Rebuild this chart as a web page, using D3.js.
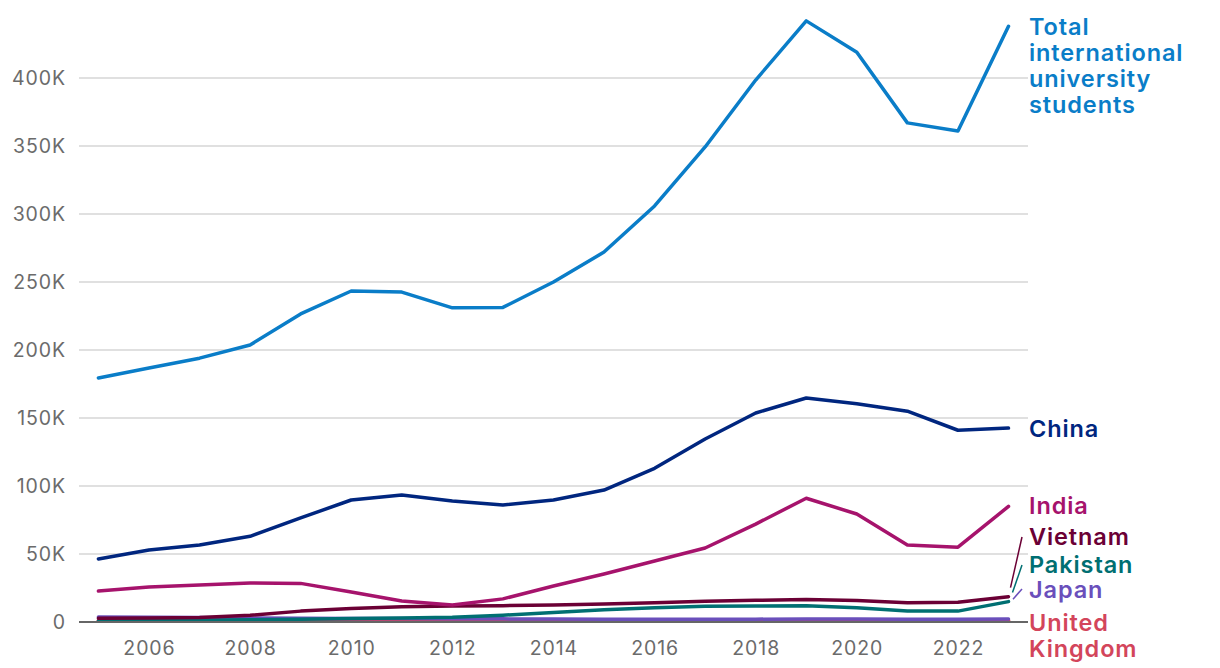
<!DOCTYPE html>
<html>
<head>
<meta charset="utf-8">
<script src="https://cdn.jsdelivr.net/npm/d3@7"></script>
<style>
  html, body { margin: 0; padding: 0; background: #fff; }
  svg { display: block; }
  text { font-family: "Inter", "Noto Sans", sans-serif; }
</style>
</head>
<body>
<svg id="chart" width="1220" height="668"></svg>
<script>
const years = d3.range(2005, 2024);
const xTicks = [2006, 2008, 2010, 2012, 2014, 2016, 2018, 2020, 2022];
const yTicks = [0, 50000, 100000, 150000, 200000, 250000, 300000, 350000, 400000];

const total    = [179400, 186800, 194000, 203700, 226500, 243400, 242600, 231000, 231300, 250000, 272000, 305900, 349300, 398500, 442000, 419000, 367000, 361000, 438000];
const china    = [46300, 53000, 56600, 63000, 76500, 89700, 93400, 89000, 86000, 89700, 97000, 113000, 134600, 153700, 164700, 160500, 155000, 141000, 142600];
const india    = [22800, 25700, 27200, 28700, 28400, 22000, 15400, 12500, 17000, 26500, 35300, 44900, 54400, 72000, 91000, 79400, 56600, 55000, 85000];
const vietnam  = [2800, 3000, 3300, 5000, 8000, 10000, 11300, 11700, 12000, 12500, 13200, 14200, 15200, 16000, 16500, 15800, 14200, 14500, 18600];
const pakistan = [800, 1000, 1200, 1600, 2100, 2600, 3000, 3500, 5000, 7000, 9000, 10500, 11500, 11800, 12000, 10500, 8000, 8000, 15000];
const japan    = [3600, 3500, 3300, 3000, 2800, 2600, 2500, 2400, 2300, 2200, 2100, 2100, 2100, 2100, 2200, 2200, 2100, 2100, 2200];
const uk       = [1200, 1200, 1200, 1200, 1200, 1200, 1200, 1200, 1200, 1200, 1200, 1200, 1200, 1200, 1200, 1200, 1200, 1200, 1200];

const seriesNames = ["United Kingdom", "Japan", "Pakistan", "Vietnam", "India", "China", "Total international university students"];
const seriesValues = [uk, japan, pakistan, vietnam, india, china, total];
const seriesColors = ["#d3455b", "#6a4fbb", "#006f72", "#6b0035", "#a6136c", "#00267f", "#0a7dc8"];

const svg = d3.select("#chart");
const x = d3.scaleLinear().domain([2005, 2023]).range([98.4, 1008.5]);
const y = d3.scaleLinear().domain([0, 400000]).range([622, 78]);
const gridX0 = 79, gridX1 = 1028;

// gridlines
svg.append("g").selectAll("line")
  .data(yTicks.filter(d => d > 0))
  .join("line")
  .attr("x1", gridX0).attr("x2", gridX1)
  .attr("y1", d => y(d)).attr("y2", d => y(d))
  .attr("stroke", "#d6d6d6").attr("stroke-width", 1.5);

// y axis labels
const yAxis = d3.axisLeft(y).tickValues(yTicks).tickSize(0).tickPadding(0)
  .tickFormat(d => d === 0 ? "0" : (d / 1000) + "K");
const gy = svg.append("g").attr("transform", `translate(66,0)`).call(yAxis);
gy.select(".domain").remove();
gy.selectAll("text").attr("fill", "#6b6b6b").attr("font-size", 19.5)
  .attr("letter-spacing", "0.9px").attr("dy", "0.34em");

// x axis labels
const xAxis = d3.axisBottom(x).tickValues(xTicks).tickSize(0).tickPadding(0).tickFormat(d3.format("d"));
const gx = svg.append("g").attr("transform", `translate(0,636)`).call(xAxis);
gx.select(".domain").remove();
gx.selectAll("text").attr("fill", "#6b6b6b").attr("font-size", 19.5)
  .attr("letter-spacing", "0.9px").attr("dy", "0.95em");

// lines
const line = d3.line().x((d, i) => x(years[i])).y(d => y(d)).curve(d3.curveLinear);
svg.append("g").selectAll("path")
  .data(seriesValues)
  .join("path")
  .attr("d", d => line(d))
  .attr("fill", "none")
  .attr("stroke", (d, i) => seriesColors[i])
  .attr("stroke-width", 3.5)
  .attr("stroke-linejoin", "round")
  .attr("stroke-linecap", "round");

// zero line
svg.append("line")
  .attr("x1", gridX0).attr("x2", gridX1)
  .attr("y1", y(0)).attr("y2", y(0))
  .attr("stroke", "#666").attr("stroke-width", 2);

// labels
const labelX = 1029;
const labels = [
  { name: "Total international university students", lines: ["Total", "international", "university", "students"], y: 35, color: seriesColors[6] },
  { name: "China", lines: ["China"], y: 437, color: seriesColors[5] },
  { name: "India", lines: ["India"], y: 514, color: seriesColors[4] },
  { name: "Vietnam", lines: ["Vietnam"], y: 545, color: seriesColors[3] },
  { name: "Pakistan", lines: ["Pakistan"], y: 573, color: seriesColors[2] },
  { name: "Japan", lines: ["Japan"], y: 598, color: seriesColors[1] },
  { name: "United Kingdom", lines: ["United", "Kingdom"], y: 631, color: seriesColors[0] }
];
labels.forEach(l => {
  const t = svg.append("text")
    .attr("x", labelX).attr("y", l.y)
    .attr("fill", l.color)
    .attr("font-size", 23.5)
    .attr("letter-spacing", "0.9px")
    .attr("font-weight", 600);
  l.lines.forEach((s, i) => {
    t.append("tspan").attr("x", labelX).attr("dy", i === 0 ? 0 : 26).text(s);
  });
});

// leader lines
const leaders = [
  { v: vietnam[18], ty: 537, color: seriesColors[3], x0: 1010.5 },
  { v: pakistan[18], ty: 565, color: seriesColors[2], x0: 1012.5 },
  { v: japan[18] + 8000, ty: 589, color: seriesColors[1], x0: 1013 }
];
leaders.forEach(l => {
  svg.append("line")
    .attr("x1", l.x0).attr("y1", y(l.v) - 9)
    .attr("x2", 1022).attr("y2", l.ty)
    .attr("stroke", l.color).attr("stroke-width", 1.5);
});
</script>
</body>
</html>
